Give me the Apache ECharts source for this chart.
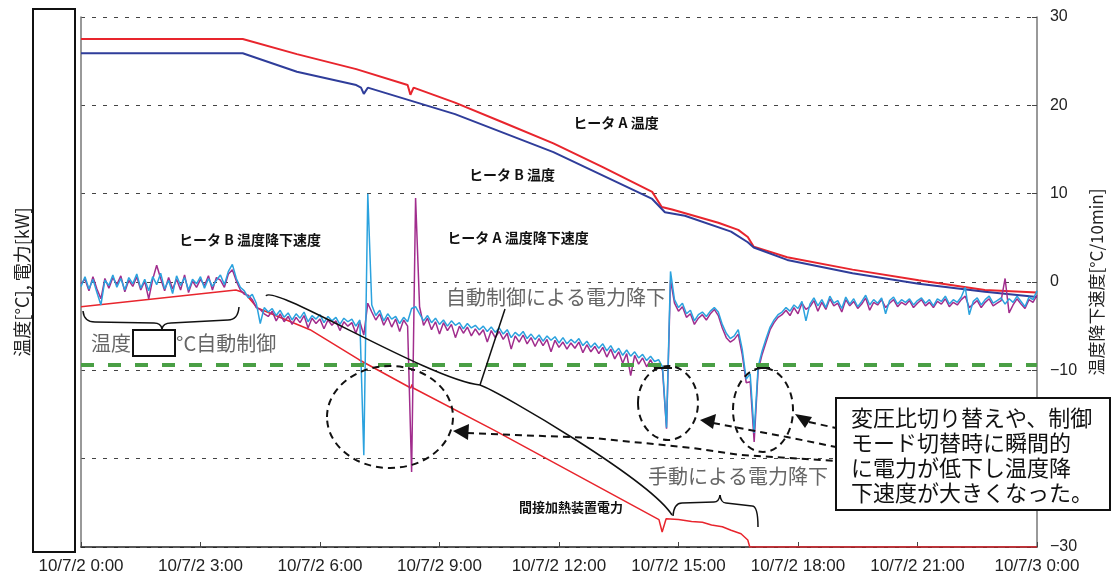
<!DOCTYPE html>
<html>
<head>
<meta charset="utf-8">
<title>ヒータ温度・温度降下速度</title>
<script src="https://cdn.jsdelivr.net/npm/echarts@6/dist/echarts.min.js"></script>
<style>
  html, body { margin: 0; padding: 0; background: #fff; }
  #chart { width: 1113px; height: 581px; }
</style>
</head>
<body>
<div id="chart"></div>
<script>
// 横軸: 10/7/2 0:00 からの経過時間 [h]
const hourTicks = [0, 3, 6, 9, 12, 15, 18, 21, 24];
const hourLabels = ['10/7/2 0:00', '10/7/2 3:00', '10/7/2 6:00', '10/7/2 9:00', '10/7/2 12:00',
  '10/7/2 15:00', '10/7/2 18:00', '10/7/2 21:00', '10/7/3 0:00'];

// 左軸（目盛は伏せ字）: [時刻h, 値]
const heaterATemp = [[0, 57.5], [4.06, 57.5], [5.42, 55.8], [6.91, 54.1], [8.2, 52.3], [8.27, 51.2], [8.35, 52.0],
  [9.39, 50.3], [10.63, 48.0], [11.86, 45.7], [13.1, 43.0], [14.34, 40.2], [14.58, 38.5], [14.84, 38.2],
  [16.0, 36.7], [16.5, 35.9], [16.74, 35.1], [16.89, 34.0], [17.73, 32.8], [19.37, 31.4], [21.03, 30.2],
  [22.69, 29.1], [24, 28.8]];
const heaterBTemp = [[0, 55.9], [4.06, 55.9], [5.42, 53.8], [6.91, 52.3], [7.03, 52.0], [7.1, 51.3], [7.2, 52.0],
  [9.39, 49.0], [11.86, 44.7], [14.34, 39.4], [14.66, 37.9], [15.16, 37.5], [16.32, 35.7], [16.74, 34.5],
  [16.89, 33.9], [17.73, 32.5], [19.37, 31.0], [21.03, 29.8], [22.69, 28.9], [24, 28.3]];
const heaterPower = [[0, 27.2], [3.89, 29.1], [4.11, 28.75], [4.43, 27.05], [5.75, 24.6], [6.98, 21.2],
  [8.28, 18.0], [8.31, 18.4], [8.34, 18.0], [10.38, 13.2], [14.51, 3.1], [14.59, 1.7], [14.69, 3.2],
  [15.0, 3.1], [15.33, 2.9], [15.6, 2.8], [15.83, 2.5], [16.1, 2.3], [16.32, 1.9], [16.57, 1.5],
  [16.74, 0.8], [16.79, 0], [24, 0]];

// 右軸: 温度降下速度 [°C/10min]、0.1h 毎
const rateStep = 0.1;
const rateA = [
  -0.2, 0.3, -1.0, 0.6, -0.8, -1.9, 0.4, -0.7, 0.5, -0.3,
  0.7, -1.1, 0.2, -0.5, 0.6, -0.9, 0.1, -1.9, 0.3, 1.9,
  0.4, -1.0, 0.5, -0.8, 0.3, -0.9, 0.8, -1.2, 0.1, -0.6,
  0.3, -0.4, 0.7, -0.9, 0.5, 0.2, -0.6, 0.9, 1.4, 0.1,
  -0.9, -1.4, -1.5, -2.0, -2.9, -3.1, -3.6, -3.9, -3.3, -4.4,
  -3.6, -4.5, -3.9, -4.8, -4.0, -4.6, -3.8, -5.2, -4.1, -4.7,
  -4.2, -5.3, -4.3, -4.9, -4.4, -5.5, -4.5, -5.0, -4.6, -5.8,
  -4.5, -6.0, -2.4, -3.4, -4.3, -3.6, -4.9, -4.0, -5.1, -4.2,
  -5.6, -4.3, -5.0, -21.5, 9.5, -2.8, -4.9, -4.1, -5.4, -4.5,
  -5.9, -4.6, -5.5, -4.8, -6.3, -5.0, -5.8, -5.1, -6.1, -5.3,
  -6.0, -5.4, -6.8, -5.5, -6.3, -5.6, -6.5, -5.8, -7.6, -6.1,
  -6.8, -6.0, -7.0, -6.3, -7.3, -6.4, -7.2, -6.5, -7.9, -6.6,
  -7.4, -6.8, -7.6, -6.9, -7.5, -6.8, -8.0, -7.1, -7.9, -7.3,
  -8.1, -7.4, -8.5, -7.6, -8.7, -7.9, -9.2, -8.1, -10.6, -8.3,
  -9.3, -8.6, -9.6, -8.8, -9.7, -9.2, -10.0, -16.6, 0.2, -2.4,
  -3.3, -2.8, -4.0, -3.6, -4.8, -4.1, -3.7, -4.3, -3.6, -3.1,
  -3.8, -5.2, -6.3, -6.8, -6.5, -5.9, -8.2, -11.4, -11.3, -18.1,
  -10.0, -8.2, -6.8, -5.4, -4.6, -4.0, -3.7, -3.2, -3.8, -2.9,
  -3.6, -2.4, -3.1, -2.8, -2.1, -3.3, -2.3, -3.1, -1.9, -2.7,
  -2.4, -3.4, -2.0, -2.7, -2.2, -3.0, -2.5, -1.8, -3.2, -2.3,
  -2.6, -2.0, -2.9, -2.4, -2.0, -2.8, -2.3, -2.6, -2.1, -2.9,
  -2.4, -2.0, -2.7, -2.3, -2.9, -2.2, -2.5, -1.9, -2.8, -2.3,
  -2.6, -2.0, -1.6, -2.9, -2.5, -2.1, -2.9, -2.3, -1.9, -2.7,
  -2.4, -2.1, 0.4, -3.5, -2.6, -1.9, -2.5, -3.0, -2.0, -2.3,
  -1.5
];
const rateB = [
  -0.5, 0.6, -0.8, 0.3, -1.2, -2.6, 0.2, -0.4, 0.8, -0.6,
  0.4, -0.9, 0.5, -0.2, 0.9, -0.7, 0.3, -1.0, 0.6, -0.3,
  1.0, -0.8, 0.2, -1.3, 0.7, -0.4, 0.5, -0.9, 0.3, -0.2,
  0.6, -0.7, 0.4, -0.5, 0.2, 0.8, -0.3, 1.2, 2.0, 0.4,
  -0.6, -1.0, -1.8, -1.4, -2.4, -4.7, -2.9, -3.4, -3.0, -3.8,
  -3.2, -4.0, -3.5, -4.3, -3.6, -4.1, -3.4, -4.5, -3.8, -4.2,
  -3.7, -4.6, -3.9, -4.4, -4.0, -4.8, -4.1, -4.5, -4.2, -5.0,
  -4.3, -19.6, 10.0, -2.6, -3.8, -3.2, -4.4, -3.6, -4.2, -3.9,
  -4.7, -4.0, -4.5, -3.0, -2.8, -3.6, -4.4, -3.8, -4.6, -4.1,
  -4.8, -4.3, -5.0, -4.4, -4.9, -4.6, -5.3, -4.7, -5.2, -4.9,
  -5.4, -5.0, -5.6, -5.1, -5.7, -5.2, -5.9, -5.4, -6.3, -5.7,
  -6.1, -5.6, -6.4, -5.9, -6.5, -6.0, -6.7, -6.1, -6.6, -6.2,
  -6.9, -6.3, -7.0, -6.5, -6.9, -6.4, -7.2, -6.7, -7.4, -6.9,
  -7.5, -7.0, -7.8, -7.2, -8.0, -7.5, -8.3, -7.7, -8.4, -7.9,
  -8.6, -8.2, -8.9, -8.4, -9.0, -8.8, -9.6, -16.5, 1.2, -2.0,
  -2.9, -2.4, -3.6, -3.2, -4.4, -3.7, -3.4, -3.9, -3.3, -2.9,
  -3.4, -4.8, -5.8, -6.4, -6.1, -5.4, -7.6, -11.0, -10.4, -17.1,
  -9.6, -7.8, -6.4, -5.1, -4.3, -3.7, -3.4, -2.9, -3.3, -2.6,
  -3.0, -2.2, -4.4, -2.5, -1.8, -2.7, -2.0, -2.9, -1.6, -2.4,
  -2.1, -3.0, -1.7, -2.5, -1.9, -2.8, -2.2, -1.5, -2.6, -2.0,
  -2.4, -1.8, -3.6, -2.1, -1.7, -2.5, -2.0, -2.3, -1.9, -2.6,
  -2.1, -1.8, -2.4, -2.0, -2.7, -1.9, -2.2, -1.6, -2.5, -2.0,
  -2.3, -1.7, -0.6, -3.7, -2.2, -1.8, -2.6, -2.0, -1.6, -2.4,
  -2.1, -1.8, -2.5, -1.9, -2.3, -1.6, -2.2, -2.8, -1.7, -2.0,
  -1.0
];
const thresholdLevel = -9.4; // 緑破線

const JP = '"Noto Sans CJK JP", sans-serif';
const EN = '"Liberation Sans", Arial, sans-serif';

const toPairs = arr => arr.map((v, i) => [Math.round(i * rateStep * 10) / 10, v]);

function label(x, y, text, size, color, weight, align) {
  return {
    type: 'text', x: x, y: y, z: 100, silent: true,
    style: {
      text: text, fill: color, font: (weight || 'normal') + ' ' + size + 'px ' + JP,
      align: align || 'center', verticalAlign: 'middle',
      textAlign: align || 'center', textVerticalAlign: 'middle'
    }
  };
}
const ink = '#111';
const dash = { stroke: ink, lineWidth: 2, lineDash: [7, 5], fill: null };
const solid = { stroke: ink, lineWidth: 1.5, fill: null };

const annotations = [
  // 左軸目盛の白抜き
  { type: 'rect', z: 100, shape: { x: 33, y: 9, width: 42, height: 543 }, style: { fill: '#fff', stroke: ink, lineWidth: 2 } },
  label(616, 123, 'ヒータ A 温度', 14, ink, 'bold'),
  label(512, 175, 'ヒータ B 温度', 14, ink, 'bold'),
  label(250, 240, 'ヒータ B 温度降下速度', 14, ink, 'bold'),
  label(518, 238, 'ヒータ A 温度降下速度', 14, ink, 'bold'),
  label(571, 507, '間接加熱装置電力', 13, ink, 'bold'),
  label(556, 297, '自動制御による電力降下', 20, '#666'),
  label(738, 476, '手動による電力降下', 20, '#666'),
  label(111, 343, '温度', 20, '#666'),
  { type: 'rect', z: 100, shape: { x: 133, y: 330, width: 42, height: 26 }, style: { fill: '#fff', stroke: ink, lineWidth: 2 } },
  label(176, 343, '°C自動制御', 20, '#666', 'normal', 'left'),
  // 点線の丸
  { type: 'ellipse', z: 100, shape: { cx: 390, cy: 417, rx: 63, ry: 51 }, style: dash },
  { type: 'ellipse', z: 100, shape: { cx: 668, cy: 403, rx: 30, ry: 37 }, style: dash },
  { type: 'ellipse', z: 100, shape: { cx: 763, cy: 410, rx: 30, ry: 42 }, style: dash },
  { type: 'line', z: 100, shape: { x1: 654, y1: 368, x2: 672, y2: 368 }, style: { stroke: ink, lineWidth: 2 } },
  { type: 'line', z: 100, shape: { x1: 757, y1: 368, x2: 770, y2: 368 }, style: { stroke: ink, lineWidth: 2 } },
  // 矢印
  { type: 'polyline', z: 100, shape: { points: [[467, 433], [593, 438], [693, 448], [740, 455], [836, 461]] }, style: dash },
  { type: 'polygon', z: 100, shape: { points: [[453, 431], [469, 424], [468, 440]] }, style: { fill: ink } },
  { type: 'polyline', z: 100, shape: { points: [[713, 423], [787, 437], [836, 447]] }, style: dash },
  { type: 'polygon', z: 100, shape: { points: [[700, 420], [716, 414], [713, 429]] }, style: { fill: ink } },
  { type: 'polyline', z: 100, shape: { points: [[809, 422], [836, 428]] }, style: dash },
  { type: 'polygon', z: 100, shape: { points: [[795, 414], [812, 417], [805, 428]] }, style: { fill: ink } },
  // 括弧・引出線
  { type: 'bezierCurve', z: 100, shape: { x1: 83, y1: 311, cpx1: 84, cpy1: 322, x2: 95, y2: 322 }, style: solid },
  { type: 'line', z: 100, shape: { x1: 95, y1: 322, x2: 154, y2: 323 }, style: solid },
  { type: 'bezierCurve', z: 100, shape: { x1: 154, y1: 323, cpx1: 161, cpy1: 323, x2: 162, y2: 329 }, style: solid },
  { type: 'bezierCurve', z: 100, shape: { x1: 162, y1: 329, cpx1: 163, cpy1: 323, x2: 171, y2: 323 }, style: solid },
  { type: 'line', z: 100, shape: { x1: 171, y1: 323, x2: 228, y2: 320 }, style: solid },
  { type: 'bezierCurve', z: 100, shape: { x1: 228, y1: 320, cpx1: 238, cpy1: 320, x2: 239, y2: 307 }, style: solid },
  { type: 'bezierCurve', z: 100, shape: { x1: 266, y1: 296, cpx1: 272, cpy1: 283, cpx2: 430, cpy2: 380, x2: 480, y2: 385 }, style: solid },
  { type: 'bezierCurve', z: 100, shape: { x1: 480, y1: 385, cpx1: 500, cpy1: 392, cpx2: 650, cpy2: 480, x2: 672, y2: 515 }, style: solid },
  { type: 'line', z: 100, shape: { x1: 480, y1: 385, x2: 505, y2: 309 }, style: solid },
  { type: 'bezierCurve', z: 100, shape: { x1: 673, y1: 516, cpx1: 674, cpy1: 503, x2: 682, y2: 503 }, style: solid },
  { type: 'line', z: 100, shape: { x1: 682, y1: 503, x2: 714, y2: 502 }, style: solid },
  { type: 'bezierCurve', z: 100, shape: { x1: 714, y1: 502, cpx1: 719, cpy1: 502, x2: 720, y2: 495 }, style: solid },
  { type: 'bezierCurve', z: 100, shape: { x1: 720, y1: 495, cpx1: 721, cpy1: 503, x2: 726, y2: 503 }, style: solid },
  { type: 'line', z: 100, shape: { x1: 726, y1: 503, x2: 752, y2: 506 }, style: solid },
  { type: 'bezierCurve', z: 100, shape: { x1: 752, y1: 506, cpx1: 758, cpy1: 506, x2: 758, y2: 527 }, style: solid },
  // 説明枠
  { type: 'rect', z: 100, shape: { x: 836, y: 398, width: 274, height: 112 }, style: { fill: '#fff', stroke: ink, lineWidth: 2 } },
  {
    type: 'text', x: 851, y: 405, z: 101, silent: true,
    style: {
      text: '変圧比切り替えや、制御\nモード切替時に瞬間的\nに電力が低下し温度降\n下速度が大きくなった。',
      font: '22px ' + JP, fill: ink, lineHeight: 25,
      align: 'left', verticalAlign: 'top', textAlign: 'left', textVerticalAlign: 'top'
    }
  }
];

const chart = echarts.init(document.getElementById('chart'));
chart.setOption({
  animation: false,
  backgroundColor: '#fff',
  grid: { left: 81, right: 63, top: 17, bottom: 34 },
  xAxis: {
    type: 'value', min: 0, max: 24, interval: 3,
    axisLine: { show: true, lineStyle: { color: '#222', width: 1.5 } },
    axisTick: { show: true, inside: true, length: 5, lineStyle: { color: '#444' } },
    axisLabel: {
      fontFamily: EN, fontSize: 17, color: '#222', margin: 11,
      showMinLabel: true, showMaxLabel: true,
      formatter: v => { const i = hourTicks.indexOf(v); return i < 0 ? '' : hourLabels[i]; }
    },
    splitLine: { show: false }
  },
  yAxis: [
    {
      type: 'value', position: 'left', min: 0, max: 60, interval: 10,
      name: '温度[°C], 電力[kW]', nameLocation: 'middle', nameGap: 50, nameRotate: 90,
      nameTextStyle: { fontFamily: JP, fontSize: 18, color: '#222' },
      axisLine: { show: true, lineStyle: { color: '#777', width: 1.5 } },
      axisTick: { show: false },
      axisLabel: { show: false },
      splitLine: { show: false }
    },
    {
      type: 'value', position: 'right', min: -30, max: 30, interval: 10,
      name: '温度降下速度[°C/10min]', nameLocation: 'middle', nameGap: 43, nameRotate: 90,
      nameTextStyle: { fontFamily: JP, fontSize: 17, color: '#222' },
      axisLine: { show: true, lineStyle: { color: '#777', width: 1.5 } },
      axisTick: { show: true, inside: true, length: 5, lineStyle: { color: '#444' } },
      axisLabel: {
        fontFamily: EN, fontSize: 16, color: '#222', margin: 13,
        formatter: v => (v < 0 ? '\u2212' + (-v) : String(v))
      },
      splitLine: { show: true, lineStyle: { color: '#444', width: 1, type: [4, 7] } }
    }
  ],
  series: [
    {
      name: 'ヒータA温度', type: 'line', yAxisIndex: 0, data: heaterATemp, symbol: 'none',
      lineStyle: { color: '#e8252d', width: 2 }, itemStyle: { color: '#e8252d' }
    },
    {
      name: 'ヒータB温度', type: 'line', yAxisIndex: 0, data: heaterBTemp, symbol: 'none',
      lineStyle: { color: '#2f3d9a', width: 2 }, itemStyle: { color: '#2f3d9a' }
    },
    {
      name: '間接加熱装置電力', type: 'line', yAxisIndex: 0, data: heaterPower, symbol: 'none',
      lineStyle: { color: '#e8252d', width: 1.5 }, itemStyle: { color: '#e8252d' }
    },
    {
      name: 'ヒータA温度降下速度', type: 'line', yAxisIndex: 1, data: toPairs(rateA), symbol: 'none',
      lineStyle: { color: '#a12d8d', width: 1.5 }, itemStyle: { color: '#a12d8d' }
    },
    {
      name: 'ヒータB温度降下速度', type: 'line', yAxisIndex: 1, data: toPairs(rateB), symbol: 'none',
      lineStyle: { color: '#2ba2de', width: 1.5 }, itemStyle: { color: '#2ba2de' },
      markLine: {
        silent: true, symbol: ['none', 'none'], label: { show: false },
        lineStyle: { color: '#4a9f45', width: 4, type: [13, 14] },
        data: [{ yAxis: thresholdLevel }]
      }
    }
  ],
  graphic: { elements: annotations }
});
</script>
</body>
</html>
